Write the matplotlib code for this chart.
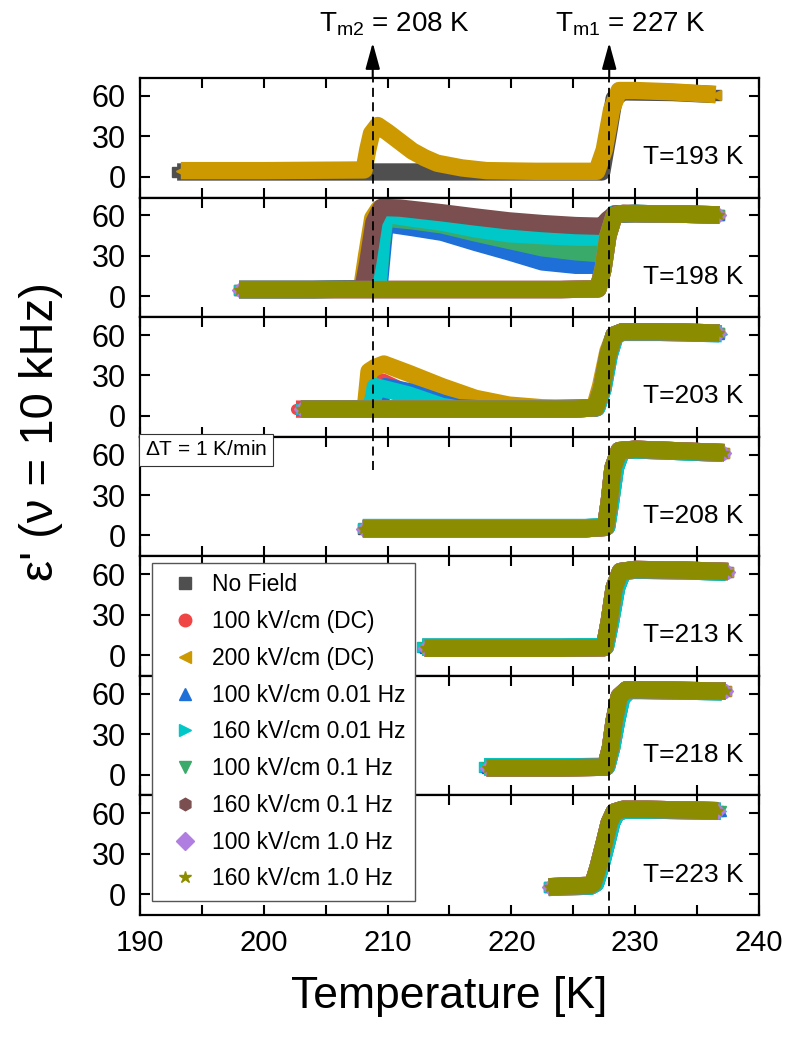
import matplotlib
matplotlib.use('Agg')
import matplotlib.pyplot as plt
from matplotlib.lines import Line2D
from matplotlib.ticker import MultipleLocator
import matplotlib.transforms as mtransforms

plt.rcParams['font.family'] = ['Liberation Sans', 'DejaVu Sans']
plt.rcParams['mathtext.fontset'] = 'custom'
plt.rcParams['mathtext.rm'] = 'Liberation Sans'
plt.rcParams['mathtext.it'] = 'Liberation Sans:italic'

labels = ['No Field', '100 kV/cm (DC)', '200 kV/cm (DC)', '100 kV/cm 0.01 Hz',
          '160 kV/cm 0.01 Hz', '100 kV/cm 0.1 Hz', '160 kV/cm 0.1 Hz',
          '100 kV/cm 1.0 Hz', '160 kV/cm 1.0 Hz']
colors = ['#4f4f4f', '#f04545', '#cc9900', '#1f6fd9', '#00c8c8',
          '#3aaa6a', '#7b4f4f', '#b07de0', '#8c8c00']
markers = ['s', 'o', '<', '^', '>', 'v', 'h', 'D', '*']
panel_temps = [193, 198, 203, 208, 213, 218, 223]
Tm2, Tm1 = 208.8, 227.9

# ---- T = 193 K (only no field and 200 kV/cm DC)
t193_nf = [193, 200, 208, 212, 216, 220, 224, 227.3, 227.8, 228.3, 229, 233, 236.5]
e193_nf = [3.5, 3.5, 3.5, 3.5, 3.5, 3.5, 3.5, 3.5, 30, 58, 63, 62.5, 61]
t193_dc = [193.3, 200, 208.1, 208.4, 208.7, 209.2, 210, 211, 212, 213, 214, 216, 218,
           222, 226.9, 227.5, 228.1, 228.7, 230, 233, 236.5]
e193_dc = [4.5, 4.5, 5, 20, 32, 38, 33, 26, 19, 14, 10, 6.5, 4.5, 4, 4, 20, 50, 64,
           64, 63, 61]

# ---- T = 198 K
t198_low = [198, 200, 204, 208, 212, 216, 220, 224, 227.0, 227.4, 227.8, 228.3, 229, 233, 236.8]
e198_low = [5, 5, 5, 5, 5, 5, 5, 5, 5.5, 20, 45, 60, 61.5, 61, 60.5]
t198_gold = [198, 204, 207.9, 208.3, 208.8, 209.3, 211, 214.4, 217, 219.8, 222.5, 225.2,
             227.2, 227.7, 228.3, 230, 233, 236.8]
e198_gold = [5, 5, 5.5, 30, 58, 65, 64, 61, 58, 55, 52.5, 51, 50, 56, 61, 61.5, 61, 60.5]
t198_brown = [198, 204, 208.0, 208.4, 208.9, 209.5, 211, 214.4, 217, 219.8, 222.5, 225.2,
              227.3, 227.8, 228.4, 230, 233, 236.8]
e198_brown = [5, 5, 5.5, 25, 55, 66, 65.5, 62, 59, 56, 54, 52.5, 52, 57, 61, 61.5, 61, 60.5]
t198_blue = [198, 204, 209.3, 209.6, 209.8, 212, 214.4, 217.1, 219.8, 222.5, 225.2, 227.3,
             227.7, 228.3, 230, 233, 236.8]
e198_blue = [5, 5, 5.5, 35, 54, 51, 47.5, 40, 33, 25.5, 23, 23, 45, 61, 61.5, 61, 60.5]
t198_cyan = [198, 204, 209.2, 209.5, 209.8, 212, 214.4, 217.1, 219.8, 222.5, 225.2, 227.3,
             227.7, 228.3, 230, 233, 236.8]
e198_cyan = [5, 5, 5.5, 40, 61, 58, 55, 50, 46.4, 45, 44, 44, 52, 61, 61.5, 61, 60.5]
t198_green = [198, 204, 209.2, 209.5, 209.8, 212, 214.4, 217.1, 219.8, 222.5, 225.2, 227.3,
              227.7, 228.3, 230, 233, 236.8]
e198_green = [5, 5, 5.5, 38, 58, 56, 53, 47, 41.5, 36, 33, 31.6, 48, 61, 61.5, 61, 60.5]

# ---- T = 203 K
t203_low = [203, 205, 209, 213, 217, 221, 225, 226.8, 227.3, 227.8, 228.3, 229, 232, 236.8]
e203_low = [5, 5, 5, 5, 5, 5, 5, 6, 20, 45, 60, 62.5, 62.5, 61.5]
t203_gold = [203, 206, 208.2, 208.5, 209.0, 209.7, 211.7, 214.4, 217.1, 219.8, 222.5, 225,
             226.7, 227.2, 227.8, 228.3, 229, 232, 236.8]
e203_gold = [5, 5, 5.5, 33, 36, 38.5, 31.6, 21.7, 13, 8, 6, 5.5, 6, 22, 48, 60, 62.5, 62.5, 61.5]
t203_red = [202.6, 206, 209.0, 209.3, 209.6, 211, 213, 215, 218, 222, 226.8, 227.3, 227.8,
            228.3, 229, 232, 236.5]
e203_red = [5, 5, 5.5, 18, 25, 19, 11, 6.5, 5, 5, 6, 20, 45, 60, 62.5, 62.5, 61.5]
t203_blue = [203, 206, 209.3, 209.6, 209.8, 211.7, 214.4, 215.7, 218, 222, 226.9, 227.4,
             227.9, 228.4, 229, 232, 236.8]
e203_blue = [5, 5, 5.5, 18, 21.7, 18, 9.4, 6, 5, 5, 6, 20, 45, 60, 62, 62, 61]
t203_cyan = [203, 206, 208.6, 208.9, 209.0, 211.7, 214.4, 215.7, 218, 222, 226.9, 227.4,
             227.9, 228.4, 229, 232, 237.0]
e203_cyan = [5, 5, 5.5, 15, 21.7, 15.5, 7, 5, 5, 5, 6, 20, 45, 60, 62, 62, 61]

# ---- T = 208 K
t208 = [208, 211, 215, 219, 223, 226, 227.6, 227.9, 228.2, 228.7, 230, 233, 237.2]
e208 = [5, 5, 5, 5, 5, 5, 6, 25, 50, 63, 64, 63, 61.5]
t208_alt = [208, 211, 215, 219, 223, 226, 227.7, 228.0, 228.4, 228.9, 230, 233, 237.0]
e208_alt = [5.8, 5.8, 5.8, 5.8, 5.8, 5.8, 6.5, 24, 50, 63, 63.5, 62.5, 61]

# ---- T = 213 K
t213 = [213, 216, 220, 224, 227.5, 227.9, 228.3, 228.8, 230, 234, 237.5]
e213 = [5, 5, 5, 5, 5.5, 25, 50, 62, 63.5, 63, 62]
t213_alt = [212.8, 216, 220, 224, 227.6, 228.0, 228.5, 229.0, 230, 234, 237.3]
e213_alt = [5.8, 5.8, 5.8, 5.8, 6.2, 24, 50, 62, 63, 62.5, 61.5]

# ---- T = 218 K
t218 = [218, 221, 224, 227.6, 228.0, 228.3, 228.7, 229.3, 230.5, 234, 237.3]
e218 = [5, 5, 5, 5.5, 20, 40, 58, 63, 63, 62.5, 62]
t218_alt = [217.8, 221, 224, 227.7, 228.1, 228.5, 228.9, 229.5, 230.5, 234, 237.0]
e218_alt = [5.8, 5.8, 5.8, 6, 20, 40, 57, 62.5, 62.5, 62, 61.5]

# ---- T = 223 K
t223 = [223, 224.5, 226.3, 226.6, 227.0, 227.5, 227.9, 228.3, 229, 231, 234, 236.7]
e223 = [5.5, 6, 6.5, 8, 20, 38, 53, 61, 63, 63, 62.5, 62]
t223_alt = [223, 224.5, 226.4, 226.8, 227.2, 227.7, 228.1, 228.5, 229.2, 231, 234, 236.9]
e223_alt = [5, 5.5, 6, 8, 20, 38, 53, 60.5, 62.5, 62.5, 62, 61.5]

# drawing order per panel: (series index, T, eps)
draw_order = [0, 1, 2, 3, 5, 4, 6, 7, 8]
panels = [
    [(0, t193_nf, e193_nf), (2, t193_dc, e193_dc)],
    [(0, t198_low, e198_low), (1, t198_low, e198_low), (2, t198_gold, e198_gold),
     (3, t198_blue, e198_blue), (5, t198_green, e198_green), (4, t198_cyan, e198_cyan),
     (6, t198_brown, e198_brown), (7, t198_low, e198_low), (8, t198_low, e198_low)],
    [(0, t203_low, e203_low), (1, t203_red, e203_red), (2, t203_gold, e203_gold),
     (3, t203_blue, e203_blue), (5, t203_low, e203_low), (4, t203_cyan, e203_cyan),
     (6, t203_low, e203_low), (7, t203_low, e203_low), (8, t203_low, e203_low)],
]
for t, e, ta, ea in [(t208, e208, t208_alt, e208_alt), (t213, e213, t213_alt, e213_alt),
                     (t218, e218, t218_alt, e218_alt), (t223, e223, t223_alt, e223_alt)]:
    panels.append([(i, ta, ea) if i in (3, 4, 5) else (i, t, e) for i in draw_order])

fig, axes = plt.subplots(7, 1, sharex=True, figsize=(7.89, 10.37), dpi=100)
fig.subplots_adjust(left=0.1774, right=0.962, bottom=0.1176, top=0.9248, hspace=0)

for k, ax in enumerate(axes):
    for i, t, e in panels[k]:
        ax.plot(t, e, color=colors[i], lw=12.5, marker=markers[i], ms=7, mec=colors[i],
                solid_joinstyle='round', solid_capstyle='butt')
    ax.set_ylim(-15.5, 73.3)
    ax.set_yticks([0, 30, 60])
    ax.set_xlim(190, 240)
    ax.xaxis.set_major_locator(MultipleLocator(10))
    ax.xaxis.set_minor_locator(MultipleLocator(5))
    ax.tick_params(which='both', direction='in', top=True, right=True, length=7, width=1.5)
    ax.tick_params(axis='y', labelsize=22, pad=10)
    ax.tick_params(axis='x', labelsize=21, pad=10)
    for s in ax.spines.values():
        s.set_linewidth(1.6)
    ax.text(0.975, 0.28, 'T=%d K' % panel_temps[k], transform=ax.transAxes,
            ha='right', va='baseline', fontsize=19)
    # dashed transition markers
    ax.axvline(Tm1, color='k', lw=1.3, ls=(0, (5, 3)), zorder=10)
    if k < 3:
        ax.axvline(Tm2, color='k', lw=1.3, ls=(0, (5, 3)), zorder=10)
    elif k == 3:
        ax.axvline(Tm2, color='k', lw=1.3, ls=(0, (5, 3)), ymin=0.72, zorder=10)

axes[-1].set_xlabel('Temperature [K]', fontsize=32, labelpad=14)
axes[3].text(0.008, 0.97, r'$\Delta$T = 1 K/min', transform=axes[3].transAxes,
             ha='left', va='top', fontsize=15,
             bbox=dict(boxstyle='square,pad=0.3', fc='white', ec='#333333', lw=0.8))

top = axes[0]
for x, name, val in [(Tm2, 'm2', 208), (Tm1, 'm1', 227)]:
    top.annotate('', xy=(x, 1.295), xytext=(x, 1.0), xycoords=('data', 'axes fraction'),
                 textcoords=('data', 'axes fraction'),
                 arrowprops=dict(arrowstyle='-|>,head_length=0.8,head_width=0.22',
                                 color='k', lw=1.5, mutation_scale=20, shrinkA=0, shrinkB=0))
    top.text(x - 4.35, 1.385, r'T$_{\mathrm{%s}}$ = %d K' % (name, val),
             transform=mtransforms.blended_transform_factory(top.transData, top.transAxes),
             ha='left', va='baseline', fontsize=20)

fig.text(0.052, 0.584, "ε' (ν = 10 kHz)", rotation=90, ha='center', va='center', fontsize=34)

handles = [Line2D([], [], ls='none', marker=markers[i], color=colors[i], ms=9)
           for i in range(9)]
fig.legend(handles, labels, loc='upper left', bbox_to_anchor=(152 / 789, 1 - 563 / 1037),
           borderaxespad=0, fontsize=16.5, frameon=True, fancybox=False, framealpha=1,
           edgecolor='#555555', handletextpad=0.15, labelspacing=0.6, borderpad=0.45)

fig.savefig('out.png', dpi=100)
